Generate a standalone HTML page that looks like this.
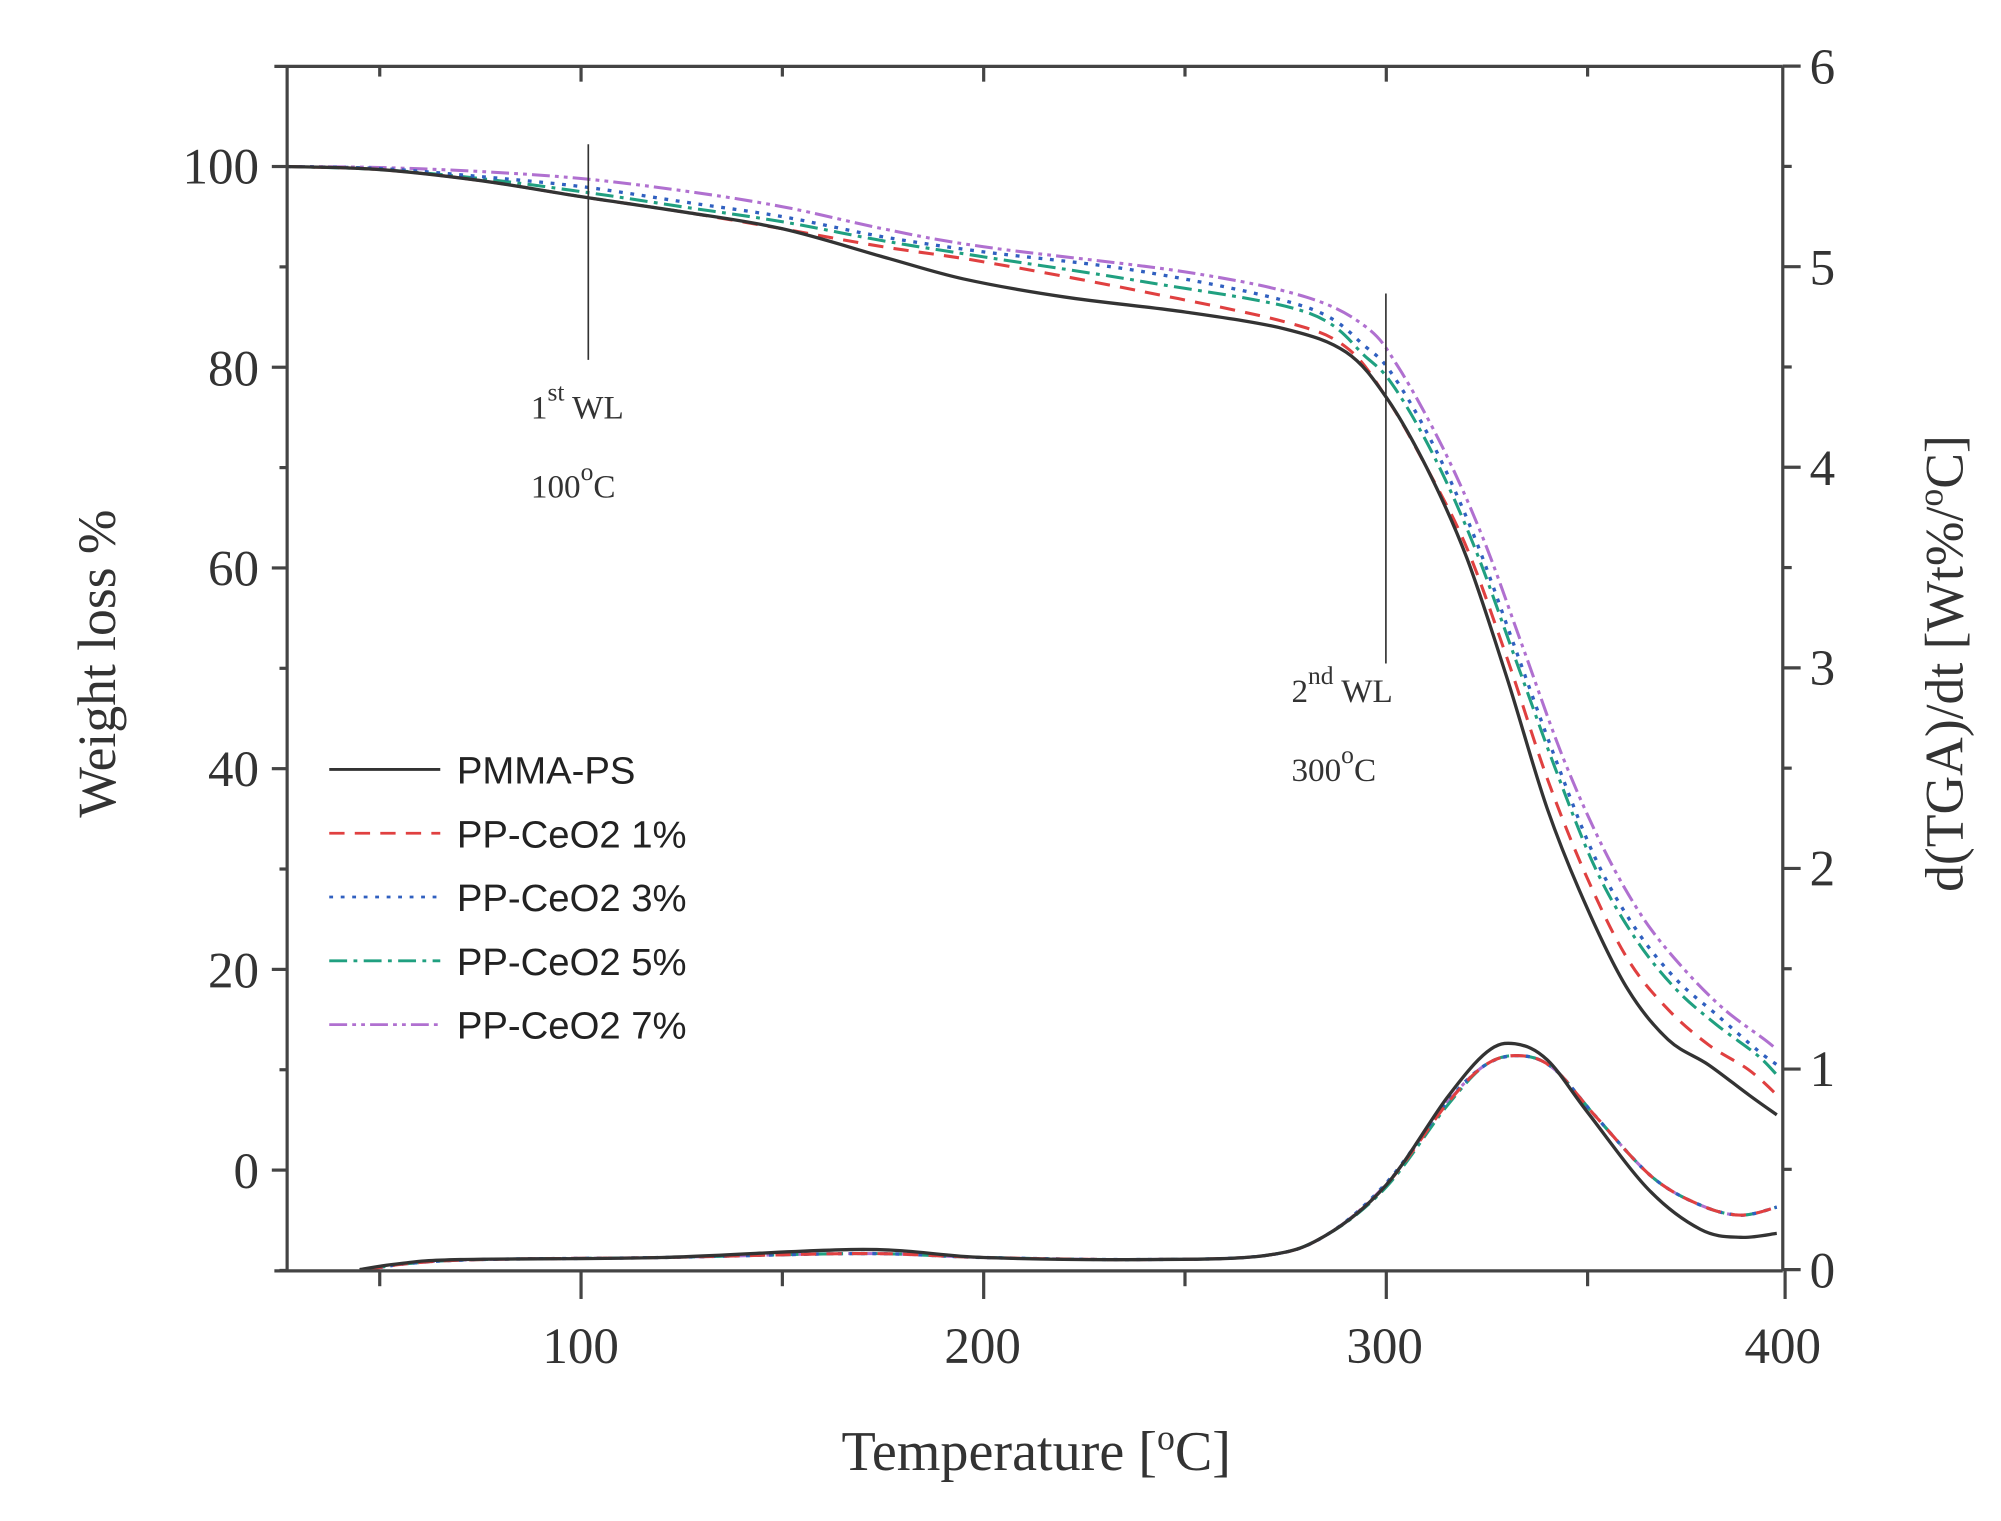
<!DOCTYPE html>
<html><head><meta charset="utf-8"><style>
html,body{margin:0;padding:0;background:#fff;}
svg{display:block;}
.t{font-family:"Liberation Serif",serif;fill:#333;}
.s{font-family:"Liberation Sans",sans-serif;fill:#222;}
</style></head><body>
<svg id="c" width="2001" height="1521" viewBox="0 0 1568 1192" preserveAspectRatio="none" xmlns="http://www.w3.org/2000/svg">
<rect width="1568" height="1192" fill="#fff"/>
<g id="curves"></g>
<g stroke="#444" stroke-width="2.5" fill="none">
<line x1="225" y1="52" x2="225" y2="996"/>
<line x1="1397" y1="52" x2="1397" y2="996"/>
<line x1="215" y1="52" x2="1397" y2="52"/>
<line x1="215" y1="996" x2="1397" y2="996"/>
</g>
<g id="ticks" stroke="#444" stroke-width="2.5"></g>
<g stroke="#333" stroke-width="1.3">
<line x1="461" y1="113" x2="461" y2="282"/>
<line x1="1086" y1="230" x2="1086" y2="520"/>
</g>
<g class="t" font-size="40" text-anchor="end">
<text x="203" y="144">100</text><text x="203" y="302">80</text><text x="203" y="459">60</text>
<text x="203" y="616">40</text><text x="203" y="774">20</text><text x="203" y="931">0</text>
</g>
<g class="t" font-size="40" text-anchor="start">
<text x="1418" y="66">6</text><text x="1418" y="223">5</text><text x="1418" y="380">4</text>
<text x="1418" y="537">3</text><text x="1418" y="694">2</text><text x="1418" y="851">1</text><text x="1418" y="1009">0</text>
</g>
<g class="t" font-size="40" text-anchor="middle">
<text x="455" y="1068">100</text><text x="770" y="1068">200</text><text x="1085" y="1068">300</text><text x="1397" y="1068">400</text>
</g>
<text class="t" font-size="44" x="812" y="1152" text-anchor="middle" fill="#222">Temperature [<tspan font-size="28" dy="-16">o</tspan><tspan dy="16">C]</tspan></text>
<text class="t" font-size="42" transform="translate(90,520) rotate(-90)" text-anchor="middle" fill="#222">Weight loss %</text>
<text class="t" font-size="42" transform="translate(1538,520) rotate(-90)" text-anchor="middle" fill="#222">d(TGA)/dt [Wt%/<tspan font-size="28" dy="-16">o</tspan><tspan dy="16">C]</tspan></text>
<g class="t" font-size="26" fill="#222">
<text x="416" y="328">1<tspan font-size="20" dy="-14">st</tspan><tspan dy="14"> WL</tspan></text>
<text x="416" y="390">100<tspan font-size="20" dy="-14">o</tspan><tspan dy="14">C</tspan></text>
<text x="1012" y="550">2<tspan font-size="20" dy="-14">nd</tspan><tspan dy="14"> WL</tspan></text>
<text x="1012" y="612">300<tspan font-size="20" dy="-14">o</tspan><tspan dy="14">C</tspan></text>
</g>
<g fill="none" stroke-width="2.2">
<line x1="258" y1="603" x2="345" y2="603" stroke="#333"/>
<line x1="258" y1="653" x2="345" y2="653" stroke="#e04040" stroke-dasharray="12,8"/>
<line x1="258" y1="703" x2="345" y2="703" stroke="#3060c0" stroke-dasharray="3,6"/>
<line x1="258" y1="753" x2="345" y2="753" stroke="#20a080" stroke-dasharray="14,5,3,5"/>
<line x1="258" y1="803" x2="345" y2="803" stroke="#b070d0" stroke-dasharray="14,4,3,4,3,4"/>
</g>
<g class="s" font-size="30">
<text x="358" y="614">PMMA-PS</text><text x="358" y="664">PP-CeO2 1%</text><text x="358" y="714">PP-CeO2 3%</text>
<text x="358" y="764">PP-CeO2 5%</text><text x="358" y="814">PP-CeO2 7%</text>
</g>
</svg>
<script>
(function(){
var NS="http://www.w3.org/2000/svg";
function X(T){return 225+(T-27)*3.155;}
function YL(v){return 917-v*7.865;}
function YR(v){return 995-v*158;}
function path(pts,fy){
 var p=pts.map(function(a){return [X(a[0]),fy(a[1])];});
 var d="M"+p[0][0].toFixed(1)+","+p[0][1].toFixed(1);
 for(var i=0;i<p.length-1;i++){
  var p0=p[i-1]||p[i],p1=p[i],p2=p[i+1],p3=p[i+2]||p2;
  var c1=[p1[0]+(p2[0]-p0[0])/6,p1[1]+(p2[1]-p0[1])/6];
  var c2=[p2[0]-(p3[0]-p1[0])/6,p2[1]-(p3[1]-p1[1])/6];
  d+=" C"+c1[0].toFixed(1)+","+c1[1].toFixed(1)+" "+c2[0].toFixed(1)+","+c2[1].toFixed(1)+" "+p2[0].toFixed(1)+","+p2[1].toFixed(1);
 }
 return d;
}
var st=[["#333","none",2.6],["#e04040","12,8",2.4],["#3060c0","3,6",2.6],["#20a080","14,5,3,5",2.4],["#b070d0","14,4,3,4,3,4",2.4]];
var tga=[
[[27,100],[50,99.7],[75,98.6],[100,97],[125,95.5],[150,93.8],[175,91],[195,88.8],[220,87],[250,85.5],[275,83.8],[290,81.5],[300,77],[310,70],[320,61],[330,49],[340,36],[350,26],[360,18],[370,13],[380,10.5],[390,7.5],[397,5.5]],
[[27,100],[50,99.7],[75,98.6],[100,97],[125,95.5],[150,93.8],[175,92],[200,90.5],[240,87.5],[275,84.5],[290,82],[300,77],[310,70],[320,62],[330,51],[340,39],[350,29],[360,21],[370,16],[380,12.5],[390,10],[397,7.5]],
[[27,100],[50,99.8],[75,99],[100,98],[125,96.5],[150,95],[175,93],[200,91.5],[240,89.5],[280,86],[295,82],[302,79],[312,72],[322,63],[332,52],[342,41],[352,31],[362,24],[372,19],[382,15.5],[392,12],[397,10.5]],
[[27,100],[50,99.7],[75,98.8],[100,97.5],[125,96],[150,94.5],[175,92.6],[200,91],[240,88.5],[280,85.5],[295,81],[302,78],[312,71],[322,62],[332,51],[342,40],[352,30],[362,23],[372,18],[382,14.5],[392,11.5],[397,9.5]],
[[27,100],[50,99.9],[75,99.5],[100,98.8],[125,97.6],[150,96],[175,93.8],[200,92],[250,89.5],[280,87],[295,84],[303,80],[314,72],[324,63],[334,52],[344,41],[354,32],[364,25],[374,20],[384,16],[394,13],[397,12]]
];
var blk=[[45,0],[55,0.03],[70,0.05],[120,0.06],[170,0.1],[200,0.06],[240,0.05],[270,0.07],[285,0.17],[300,0.42],[315,0.85],[325,1.08],[332,1.12],[340,1.04],[350,0.78],[365,0.4],[378,0.2],[388,0.16],[397,0.18]];
function oth(o){return [[47,0],[57,0.03],[75,0.05],[120,0.06],[170,0.08],[200,0.06],[240,0.05],[270,0.07],[285,0.17],[300,0.42+o],[315,0.82+o],[325,1.02],[334,1.06],[342,0.99],[352,0.76],[366,0.46],[378,0.32],[388,0.27],[397,0.31]];}
var dtg=[blk,oth(0),oth(0.01),oth(-0.01),oth(0.005)];
var g=document.getElementById("curves");
for(var i=4;i>=0;i--){
 [[tga[i],YL],[dtg[i],YR]].forEach(function(c){
  var e=document.createElementNS(NS,"path");
  e.setAttribute("d",path(c[0],c[1]));e.setAttribute("fill","none");
  e.setAttribute("stroke",st[i][0]);e.setAttribute("stroke-width",st[i][2]);
  if(st[i][1]!="none")e.setAttribute("stroke-dasharray",st[i][1]);
  g.appendChild(e);
 });
}
var tk=document.getElementById("ticks");
function ln(a,b,c,d){var e=document.createElementNS(NS,"line");e.setAttribute("x1",a);e.setAttribute("y1",b);e.setAttribute("x2",c);e.setAttribute("y2",d);tk.appendChild(e);}
for(var T=50;T<=400;T+=50){var x=X(T)+(T==400?-3:0);ln(x,996,x,T%100==0?1018:1008);if(T<400)ln(x,52,x,T%100==0?64:60);}
for(var v=-10;v<=110;v+=10){var y=YL(v);if(y<52||y>996)continue;ln(225,y,v%20==0?213:219,y);}
for(var r=0;r<=6;r+=0.5){var y=995-r*157.2;ln(1397,y,r%1==0?1411:1404,y);}
})();
</script>
</body></html>
